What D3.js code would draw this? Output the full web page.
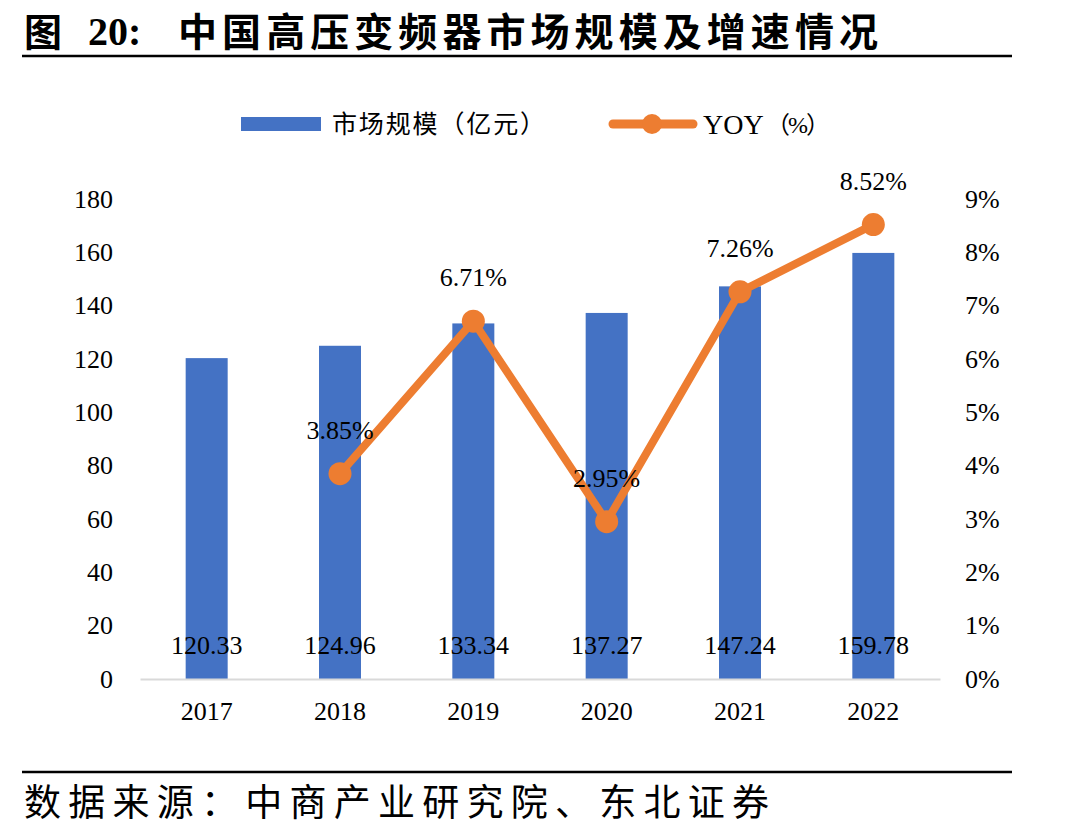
<!DOCTYPE html>
<html>
<head>
<meta charset="utf-8">
<script src="https://cdn.jsdelivr.net/npm/d3@7"></script>
<style>
  body { margin: 0; background: #fff; }
  svg text { font-family: "Liberation Serif", "Noto Sans CJK SC", serif; }
</style>
</head>
<body>
<svg id="chart" width="1090" height="838"></svg>
<script>
const years = ['2017', '2018', '2019', '2020', '2021', '2022'];
const marketSize = [120.33, 124.96, 133.34, 137.27, 147.24, 159.78];
const yoy = [null, 3.85, 6.71, 2.95, 7.26, 8.52];
const leftTicks = [0, 20, 40, 60, 80, 100, 120, 140, 160, 180];
const rightTicks = [0, 1, 2, 3, 4, 5, 6, 7, 8, 9];

const blue = '#4472C4';
const orange = '#ED7D31';
const cjk = '"Noto Sans CJK SC", sans-serif';

const svg = d3.select('#chart');
const margin = {top: 199, bottom: 679, left: 140, right: 940};

const x = d3.scaleBand()
  .domain(years)
  .range([margin.left, margin.right]);

const y = d3.scaleLinear()
  .domain([0, 180])
  .range([margin.bottom, margin.top]);

const y2 = d3.scaleLinear()
  .domain([0, 9])
  .range([margin.bottom, margin.top]);

// 标题
svg.append('text')
  .attr('x', 24).attr('y', 46)
  .attr('font-family', cjk)
  .attr('font-weight', 'bold')
  .attr('font-size', 38)
  .text('图');
svg.append('text')
  .attr('x', 88).attr('y', 45)
  .attr('font-family', 'Liberation Serif')
  .attr('font-weight', 'bold')
  .attr('font-size', 40)
  .text('20:');
svg.append('text')
  .attr('x', 178).attr('y', 46)
  .attr('font-family', cjk)
  .attr('font-weight', 'bold')
  .attr('font-size', 39)
  .attr('textLength', 700)
  .attr('lengthAdjust', 'spacing')
  .text('中国高压变频器市场规模及增速情况');

svg.append('line')
  .attr('x1', 22).attr('x2', 1012)
  .attr('y1', 56).attr('y2', 56)
  .attr('stroke', '#000').attr('stroke-width', 2.5);

// legend
svg.append('rect')
  .attr('x', 241).attr('y', 117)
  .attr('width', 80).attr('height', 14)
  .attr('fill', blue);
svg.append('text')
  .attr('x', 332).attr('y', 133)
  .attr('font-family', cjk)
  .attr('font-size', 25)
  .attr('textLength', 213)
  .attr('lengthAdjust', 'spacing')
  .text('市场规模（亿元）');

svg.append('line')
  .attr('x1', 613).attr('x2', 693)
  .attr('y1', 124).attr('y2', 124)
  .attr('stroke', orange).attr('stroke-width', 9)
  .attr('stroke-linecap', 'round');
svg.append('circle')
  .attr('cx', 652).attr('cy', 124).attr('r', 10)
  .attr('fill', orange);
svg.append('text')
  .attr('x', 703).attr('y', 134)
  .attr('font-size', 28)
  .text('YOY');
svg.append('text')
  .attr('x', 766).attr('y', 133)
  .attr('font-family', cjk)
  .attr('font-size', 24)
  .attr('textLength', 64)
  .attr('lengthAdjust', 'spacing')
  .text('（%）');

// 轴
const yAxis = g => g
  .attr('transform', `translate(${margin.left},0)`)
  .call(d3.axisLeft(y).tickValues(leftTicks).tickSize(0).tickPadding(27))
  .call(g => g.select('.domain').remove())
  .call(g => g.selectAll('text').attr('font-size', 26).attr('font-family', 'Liberation Serif').attr('fill', '#000'));

const y2Axis = g => g
  .attr('transform', `translate(${margin.right},0)`)
  .call(d3.axisRight(y2).tickValues(rightTicks).tickSize(0).tickPadding(25).tickFormat(d => d + '%'))
  .call(g => g.select('.domain').remove())
  .call(g => g.selectAll('text').attr('font-size', 26).attr('font-family', 'Liberation Serif').attr('fill', '#000'));

svg.append('g').call(yAxis);
svg.append('g').call(y2Axis);

// bars
const barW = 42;
svg.append('g')
  .selectAll('rect')
  .data(marketSize)
  .join('rect')
  .attr('x', (d, i) => x(years[i]) + x.bandwidth() / 2 - barW / 2)
  .attr('y', d => y(d))
  .attr('width', barW)
  .attr('height', d => y(0) - y(d))
  .attr('fill', blue);

// x axis
const xAxis = g => g
  .attr('transform', `translate(0,${margin.bottom})`)
  .call(d3.axisBottom(x).tickSize(0).tickPadding(23))
  .call(g => g.select('.domain').attr('stroke', '#d9d9d9').attr('stroke-width', 2))
  .call(g => g.selectAll('text').attr('font-size', 26).attr('font-family', 'Liberation Serif').attr('fill', '#000'));
svg.append('g').call(xAxis);

// bar labels
svg.append('g')
  .selectAll('text')
  .data(marketSize)
  .join('text')
  .attr('x', (d, i) => x(years[i]) + x.bandwidth() / 2)
  .attr('y', y(0) - 25)
  .attr('text-anchor', 'middle')
  .attr('font-size', 26)
  .text(d => d.toFixed(2));

// yoy line
const lineData = yoy.map((v, i) => ({year: years[i], v})).filter(d => d.v !== null);
const line = d3.line()
  .x(d => x(d.year) + x.bandwidth() / 2)
  .y(d => y2(d.v));

svg.append('path')
  .datum(lineData)
  .attr('fill', 'none')
  .attr('stroke', orange)
  .attr('stroke-width', 8)
  .attr('stroke-linejoin', 'round')
  .attr('d', line);

svg.append('g')
  .selectAll('circle')
  .data(lineData)
  .join('circle')
  .attr('cx', d => x(d.year) + x.bandwidth() / 2)
  .attr('cy', d => y2(d.v))
  .attr('r', 11.5)
  .attr('fill', orange);

svg.append('g')
  .selectAll('text')
  .data(lineData)
  .join('text')
  .attr('x', d => x(d.year) + x.bandwidth() / 2)
  .attr('y', d => y2(d.v) - 35)
  .attr('text-anchor', 'middle')
  .attr('font-size', 26)
  .text(d => d.v.toFixed(2) + '%');

// source
svg.append('line')
  .attr('x1', 22).attr('x2', 1012)
  .attr('y1', 772).attr('y2', 772)
  .attr('stroke', '#000').attr('stroke-width', 2.5);

svg.append('text')
  .attr('x', 24).attr('y', 816)
  .attr('font-family', cjk)
  .attr('font-size', 37)
  .attr('textLength', 745)
  .attr('lengthAdjust', 'spacing')
  .text('数据来源：中商产业研究院、东北证券');
</script>
</body>
</html>
